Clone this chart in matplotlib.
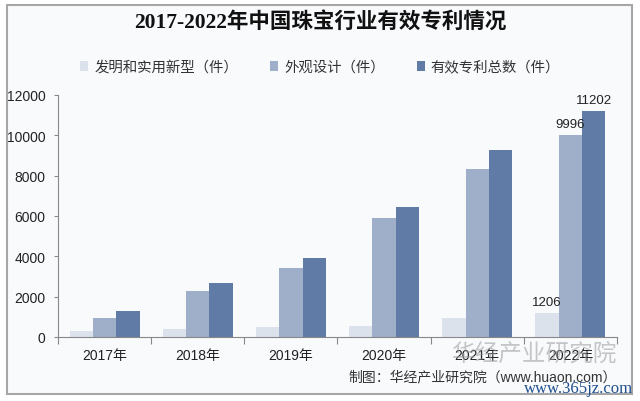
import matplotlib
matplotlib.use("Agg")
import matplotlib.pyplot as plt
import numpy as np
from matplotlib.patches import Rectangle

years = ["2017年", "2018年", "2019年", "2020年", "2021年", "2022年"]
invention = [320, 400, 480, 540, 930, 1206]
design = [960, 2300, 3420, 5920, 8330, 9996]
total = [1280, 2700, 3900, 6460, 9260, 11202]
series_names = ["发明和实用新型（件）", "外观设计（件）", "有效专利总数（件）"]
colors = ["#dce2ec", "#9fafca", "#607ba6"]

sans = ["Liberation Sans", "Noto Sans CJK SC", "DejaVu Sans"]
serif = ["Liberation Serif", "Noto Sans CJK SC", "DejaVu Sans"]
plt.rcParams["font.family"] = sans

fig = plt.figure(figsize=(6.4, 4.02), dpi=100)
fig.patch.set_facecolor("white")
# outer frame of the chart card
fig.patches.append(Rectangle((7 / 640, 1 - 395 / 402), 625 / 640, 389 / 402,
                             transform=fig.transFigure, facecolor="#f8fafc",
                             edgecolor="#a6a6a6", linewidth=1.5, zorder=-5))

ax = fig.add_axes([58 / 640, 1 - 338 / 402, 559 / 640, 242 / 402])
ax.set_facecolor("none")
ax.set_zorder(2)

x = np.arange(len(years))
w = 0.25
bars = []
for i, vals in enumerate([invention, design, total]):
    b = ax.bar(x + (i - 1) * w, vals, w, color=colors[i], label=series_names[i], zorder=2)
    bars.append(b)

# labels only on the last year
for b in bars:
    r = b[-1]
    ax.text(r.get_x() + r.get_width() / 2, r.get_height() + 250, f"{int(r.get_height())}",
            ha="center", va="bottom", fontsize=9.5, color="#222222")

ax.set_xlim(-0.5, len(years) - 0.5)
ax.set_ylim(0, 12000)
ax.set_yticks(np.arange(0, 12001, 2000))
ax.tick_params(axis="y", labelsize=10, length=3, width=0.8, color="#888888", pad=6, labelcolor="#222222")
ax.set_xticks(x)
ax.set_xticklabels(years)
ax.tick_params(axis="x", which="major", length=0, labelsize=10, pad=8, labelcolor="#222222")
ax.set_xticks(np.arange(-0.5, len(years)), minor=True)
ax.tick_params(axis="x", which="minor", length=5, width=0.8, color="#888888")

for s in ["top", "right"]:
    ax.spines[s].set_visible(False)
ax.spines["left"].set_color("#888888")
ax.spines["bottom"].set_color("#888888")
ax.spines["left"].set_linewidth(0.8)
ax.spines["bottom"].set_linewidth(0.8)

fig.text(0.5, 1 - 22 / 402, "2017-2022年中国珠宝行业有效专利情况", ha="center", va="center",
         fontsize=15.5, fontweight="bold", family=serif, color="#111111")

leg = fig.legend(loc="center", bbox_to_anchor=(0.5, 1 - 68 / 402), ncol=3, frameon=False,
                 fontsize=10.4, handlelength=0.6, handleheight=0.6, handletextpad=0.4,
                 columnspacing=2.2)
for t in leg.get_texts():
    t.set_color("#333333")

# watermark and source
fig.text(617 / 640, 1 - 354 / 402, "华经产业研究院", ha="right", va="center", fontsize=17,
         color="#9a9a9a", alpha=0.55)
fig.text(617 / 640, 1 - 377 / 402, "制图：华经产业研究院（www.huaon.com）", ha="right",
         va="center", fontsize=10, color="#333333")
fig.text(633 / 640, 1 - 389 / 402, "www.365jz.com", ha="right", va="center", fontsize=12,
         family=serif, color="#1f4f8f")

fig.savefig("out.png", dpi=100)
